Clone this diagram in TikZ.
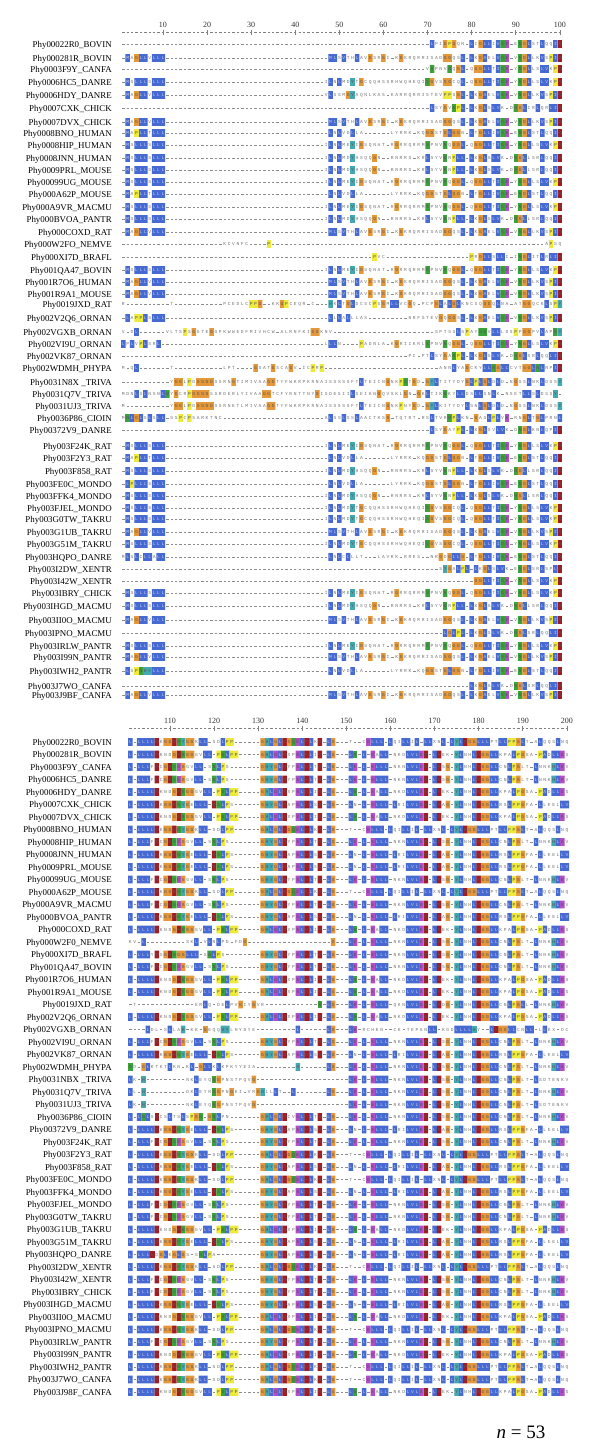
\documentclass[tikz,border=0pt]{standalone}
\usepackage{fontspec}
\setmainfont{Liberation Serif}
\font\resfnt="Liberation Mono" at 4.6pt
\definecolor{cB}{RGB}{70,105,210}
\definecolor{cR}{RGB}{160,28,35}
\definecolor{cM}{RGB}{178,78,198}
\definecolor{cG}{RGB}{58,162,58}
\definecolor{cO}{RGB}{228,152,58}
\definecolor{cY}{RGB}{238,234,60}
\definecolor{cC}{RGB}{68,168,176}
\definecolor{plainL}{RGB}{115,115,115}
\definecolor{blueL}{RGB}{195,205,240}
\definecolor{clrL}{RGB}{85,85,85}
\definecolor{gapC}{RGB}{140,140,140}
\newcount\rc
\newif\ifanyrect
\newbox\seqbox
\def\setres#1#2{\expandafter\def\csname rc@#1\endcsname{#2}}
\setres A{cB}\setres I{cB}\setres L{cB}\setres M{cB}\setres F{cB}\setres W{cB}\setres V{cB}\setres C{cB}
\setres K{cR}\setres R{cR}\setres D{cM}\setres E{cM}
\setres S{cG}\setres T{cG}\setres N{cG}\setres Q{cG}
\setres G{cO}\setres P{cY}\setres H{cC}\setres Y{cC}
\def\whitecls{white}\def\gapcls{gap}\def\bluecls{cB}
\def\xzero{118.89}\def\collimit{100}\def\gapxl{121.1}\def\gapxr{562.1}
\def\getclass#1{%
  \if-#1\def\thisclass{gap}\else
    \expandafter\ifx\csname rc@#1\endcsname\relax\def\thisclass{white}\else
      \edef\thisclass{\csname rc@#1\endcsname}\fi\fi}
% rectangle pass
\def\rectone#1{\ifnum\rc>\collimit\relax\else\getclass#1\ifx\thisclass\curclass
   \edef\xl{\the\dimexpr\xzero pt+4.41pt*\rc-2.25pt\relax}%
   \pgfpathrectangle{\pgfpoint{\xl}{\yb}}{\pgfpoint{4.5pt}{7.8pt}}\anyrecttrue\fi\fi}
\def\rectloop#1{\ifx#1\relax\let\seqnext\relax\else\def\seqnext{\rectone#1\advance\rc by1 \rectloop}\fi\seqnext}
\def\dopass#1{\def\curclass{#1}\anyrectfalse\rc=\seqstart\relax
  \expandafter\rectloop\seqstr\relax
  \ifanyrect\pgfsetfillcolor{#1}\pgfusepath{fill}\fi}
% text pass: mode 1 plain, 2 blue cells, 3 other coloured cells
\def\putlet#1{\hbox to4.41pt{\hss\uppercase{#1}\hss}}
\def\putsp{\hskip4.41pt}
\def\txtone#1{\ifnum\rc>\collimit\relax\else\getclass#1%
  \ifcase\txtmode\or
    \ifx\thisclass\whitecls\putlet{#1}\else\putsp\fi
  \or
    \ifx\thisclass\bluecls\putlet{#1}\else\putsp\fi
  \or
    \ifx\thisclass\whitecls\putsp\else\ifx\thisclass\gapcls\putsp\else\ifx\thisclass\bluecls\putsp\else\putlet{#1}\fi\fi\fi
  \fi\fi}
\def\txtloop#1{\ifx#1\relax\let\seqnext\relax\else\def\seqnext{\txtone#1\advance\rc by1 \txtloop}\fi\seqnext}
\def\txtrow#1#2{\setbox\seqbox\hbox{\resfnt\def\txtmode{#1}\rc=\seqstart\relax\expandafter\txtloop\seqstr\relax}%
  \pgftext[left,base,at={\pgfpoint{\xs}{\ybase}}]{\color{#2}\box\seqbox}}
\def\seqrow#1#2#3{\begin{pgfscope}%
  \edef\yb{\the\dimexpr -#1pt - 3.9pt\relax}%
  \edef\ybase{\the\dimexpr -#1pt - 1.55pt\relax}%
  \edef\xs{\the\dimexpr\xzero pt+4.41pt*#2-2.205pt\relax}%
  \def\seqstart{#2}\edef\seqstr{#3}%
  \dopass{white}\dopass{cB}\dopass{cR}\dopass{cM}\dopass{cG}\dopass{cO}\dopass{cY}\dopass{cC}%
  \txtrow{1}{plainL}\txtrow{2}{blueL}\txtrow{3}{clrL}%
  \end{pgfscope}}
\newcommand\gapbg[1]{\draw[gapln] (\gapxl,#1) -- (\gapxr,#1);}
\newcommand\Trow[4]{\gapbg{#1}\seqrow{#1}{1}{#2}\seqrow{#1}{47}{#3}\seqrow{#1}{79}{#4}}
\newcommand\Brow[3]{\gapbg{#1}\seqrow{#1}{101}{#2}\seqrow{#1}{131}{#3}}
% top block pieces
\def\NA{-MaGLLvLLL}\def\NB{-MsLLLsLLL}\def\NC{-MaPLLtLLL}\def\ND{-LPLLLsLLL}\def\NE{-LsPNHYLLL}
\def\hA{-MLsVthLavGsrGi-kGkrqrrisadGGqsL}
\def\hB{iLnLmeYiGsqnat-rGrrqrrmSpnvNqGGL}
\def\hC{iLnLmdYhsqqGn--rnrrs-krLsyvNnPLL}
\def\hD{-LnLvdLla------lyrrk-kqGGstGLGGn}
\def\hE{iLnLmdYtGcqqhssrhwqheqiSGvsGGcqL}
\def\tA{-LkGAelVSE-vNGLlkVsPIR}
\def\tB{-qGGLLtISE-yNGLlsLVkPR}
\def\tC{-LkGLsLVk-dNGLlsrLqqIR}
\def\tD{-LtGLLiVSE-eNGLstLqqIR}
% bottom block pieces
\def\bhA{L-LLLLRkndGRNGGgvLL-PSLPP-----}
\def\bhB{L-LLLfRcGRSEGgvLL-sNLPs-------}
\def\bhC{L-LLLLRkGGRNYGeLLL-RSLPs------}
\def\bhD{L-LLLLRkGGRNYGGkLL-sdLPP------}
\def\btA{GHLDLRxpELRLiR-LG---LN-L-EaLL-nkdLVLER-LRek-YLnhLRGGLLkpaLPGsa-PAdLLEs}
\def\btB{GHYGLRypELRLtR-LG---LE-L-ELLL-nknLVLER-LRsG-YLnhLRGGLLcnLPGlt-LnnkHLEv}
\def\btC{GHYGLRapELRLsR-LG---Ln-L-ELLL-LriLVLER-LRaG-YLnhLRGGLLrsLPPGfa-LleelLV}
\def\btD{GHLGLRGQELRLkR-LG---t--cELLL-LqiLLiL-LLxnL-LYLRGGLLLptLLPPGLt-aLqqsLnq}
\tikzset{
 lab/.style={font=\fontsize{8.9}{10}\selectfont, anchor=base east, inner sep=0pt},
 rnum/.style={font=\fontsize{8}{9}\selectfont, inner sep=0pt, text=black!80},
 gapln/.style={draw=gapC, line width=0.55pt, dash pattern=on 2.4pt off 2.01pt, dash phase=3.405pt},
 rulerln/.style={draw=gray, line width=0.5pt, dash pattern=on 2.4pt off 2.01pt, dash phase=3.405pt},
 rtick/.style={draw=gray, line width=0.6pt}
}
\begin{document}
\begin{tikzpicture}[x=1pt,y=-1pt]
\useasboundingbox (0,0) rectangle (600,1448);
\fill[white] (0,0) rectangle (600,1448);
% ---------------- top ruler
\draw[rulerln] (121.1,32) -- (562.1,32);
\foreach \c in {10,20,...,100}{
  \node[rnum] (rt\c) at ({118.89+4.41*\c},24.5) {\c};
  \draw[rtick] ({118.89+4.41*\c},29.5) -- ++(0,5);
}
% ---------------- top labels
\foreach \nm/\yy [count=\i] in {Phy00022R0\_BOVIN/44,Phy000281R\_BOVIN/58,Phy0003F9Y\_CANFA/69,Phy0006HC5\_DANRE/82,Phy0006HDY\_DANRE/95,Phy0007CXK\_CHICK/108,Phy0007DVX\_CHICK/122,Phy0008BNO\_HUMAN/133,Phy0008HIP\_HUMAN/145,Phy0008JNN\_HUMAN/158,Phy0009PRL\_MOUSE/170,Phy00099UG\_MOUSE/182,Phy000A62P\_MOUSE/194,Phy000A9VR\_MACMU/207,Phy000BVOA\_PANTR/219,Phy000COXD\_RAT/232,Phy000W2FO\_NEMVE/244,Phy000XI7D\_BRAFL/257,Phy001QA47\_BOVIN/270,Phy001R7O6\_HUMAN/282,Phy001R9A1\_MOUSE/294,Phy0019JXD\_RAT/304,Phy002V2Q6\_ORNAN/318,Phy002VGXB\_ORNAN/332,Phy002VI9U\_ORNAN/344,Phy002VK87\_ORNAN/356,Phy002WDMH\_PHYPA/368,Phy0031N8X \_TRIVA/382,Phy0031Q7V\_TRIVA/394,Phy0031UJ3\_TRIVA/406,Phy0036P86\_CIOIN/418,Phy00372V9\_DANRE/430,Phy003F24K\_RAT/446,Phy003F2Y3\_RAT/458,Phy003F858\_RAT/471,Phy003FE0C\_MONDO/484,Phy003FFK4\_MONDO/496,Phy003FJEL\_MONDO/508,Phy003G0TW\_TAKRU/519,Phy003G1UB\_TAKRU/532,Phy003G51M\_TAKRU/544,Phy003HQPO\_DANRE/557,Phy003I2DW\_XENTR/569,Phy003I42W\_XENTR/581,Phy003IBRY\_CHICK/593,Phy003IHGD\_MACMU/606,Phy003II0O\_MACMU/620,Phy003IPNO\_MACMU/633,Phy003IRLW\_PANTR/646,Phy003I99N\_PANTR/657,Phy003IWH2\_PANTR/671,Phy003J7WO\_CANFA/686,Phy003J9BF\_CANFA/695}
  {\node[lab] (ta\i) at (112,\yy+3.1) {\nm};}
% ---------------- top rows
\gapbg{44}\seqrow{44}{70}{-LpiGPGqn-LiGLLiVSE-eNGLstLqqIR}
\Trow{58}{\NA}{\hA}{\tA}
\gapbg{69}\seqrow{69}{70}{vSpnvNqGL-qGGLLtISE-yNGLlsLVkPR}
\Trow{82}{\NB}{\hE}{\tB}
\Trow{95}{\NA}{vLssmGYaqnlkas-karrqrristevPPsGL}{\tA}
\gapbg{108}\seqrow{108}{71}{LsyGvNPL-LkGLsLVk-dNGLirLqrLIR}
\Trow{122}{\NA}{\hA}{\tA}
\Trow{133}{\NC}{\hD}{\tD}
\Trow{145}{\NB}{\hB}{\tB}
\Trow{158}{\NB}{\hC}{\tC}
\Trow{170}{\NB}{\hC}{\tC}
\Trow{182}{\NB}{\hB}{\tB}
\Trow{194}{\NC}{\hD}{\tD}
\Trow{207}{\NB}{\hB}{\tB}
\Trow{219}{\NB}{\hC}{\tC}
\Trow{232}{\NA}{\hA}{\tA}
\gapbg{244}\seqrow{244}{24}{kcvnfc}\seqrow{244}{34}{P}\seqrow{244}{97}{aPsq}
\gapbg{257}\seqrow{257}{58}{Pvc}\seqrow{257}{80}{PrGLLsLLi-iNGLitLrLIR}
\Trow{270}{\NB}{\hB}{\tB}
\Trow{282}{\NA}{\hA}{\tA}
\Trow{294}{\NA}{\hA}{\tA}
\gapbg{304}\seqrow{304}{1}{r}\seqrow{304}{12}{t}\seqrow{304}{24}{pcedlcPPG--kkGPceqr-c}\seqrow{304}{48}{HkLtGLdcscPsGmLLvcGq-pcpGLaLGLkncsqGGqLna-atGGqckLsPY}
\Trow{318}{-LaPPLsLLL}{-LlLaLllas---------nrfstevGqGGsL}{\tA}
\gapbg{332}\seqrow{332}{1}{v-dL}\seqrow{332}{11}{vltsPsGgteGgpkwwedfmivhcw-alrnfkiGGknv}\seqrow{332}{72}{sptssLsPayNNvLLldsPpGGpvLapNY}
\gapbg{344}\seqrow{344}{1}{LpLvPLsrL}\seqrow{344}{47}{lLLn----Padnla-kGriikrlSpnvNqGGL}\seqrow{344}{79}{\tB}
\gapbg{356}\seqrow{356}{66}{pc-ptLsyGaNPL-LkGLsLVk-dNGLsrLqqLIR}
\gapbg{368}\seqrow{368}{1}{m-qL}\seqrow{368}{12}{t}\seqrow{368}{24}{lpt}\seqrow{368}{31}{GsatGscaGv-icPrP}\seqrow{368}{73}{annLyaGckyLLNGLLcvtGGLNLnpIR}
\gapbg{382}\seqrow{382}{12}{yGGlPdGGGGssrnGtimivaaGGtyfwkrpkrnaisssssftLteiinGnkPStGd-GYLtitydyGLPLGLdLd-nGssLnkLdssY}
\gapbg{394}\seqrow{394}{1}{mdnLsLnsnLNyGcrPGGGGssrderlyivaaGGtcfyrnttnyGisdesiiLseiknGqvsklGn-GkLtikNkyLLdsLLsnLk-nsetLLsLdssY}
\gapbg{406}\seqrow{406}{1}{m}\seqrow{406}{12}{yGGlPdGGGGssrnetlmivaaGGtyfwkrpkrnaisssssftLteiinGnkPnyGd-GYLkitydyLsnLGLdLd-nGssLnkLdssY}
\gapbg{418}\seqrow{418}{1}{mNLGLsLsLL-ssPcPsarktnc}\seqrow{418}{47}{aLssLssLaactksG-tqtrt-rsLtvrNPLkn-GasLPLvE-rnGLtGLprnL}
\gapbg{430}\seqrow{430}{71}{LsyGayPL-LkGLsvLVk-dNGLknLqpIR}
\Trow{446}{\NB}{\hB}{\tB}
\Trow{458}{\NC}{\hD}{\tD}
\Trow{471}{\NB}{\hC}{\tC}
\Trow{484}{\ND}{\hD}{\tD}
\Trow{496}{\NB}{\hC}{\tC}
\Trow{508}{\NB}{\hE}{\tB}
\Trow{519}{\NB}{\hE}{\tB}
\Trow{532}{\NA}{\hA}{\tA}
\Trow{544}{\NB}{\hE}{\tB}
\Trow{557}{mLsLcLLaLL}{-LnLcLllt---lavrk-rres--nrGdGLLG}{\tD}
\gapbg{569}\seqrow{569}{73}{sYGaLPL-LkGLsLVk-eNGLsrLspLR}
\gapbg{581}\seqrow{581}{81}{GGLLtISE-yNGLlsLVkPR}
\Trow{593}{\NB}{\hB}{\tB}
\Trow{606}{\NB}{\hC}{\tC}
\Trow{620}{\NA}{\hA}{\tA}
\gapbg{633}\seqrow{633}{74}{LGLPL-LkGLsLVk-dNGLsrLqqLIR}
\Trow{646}{\NB}{\hB}{\tB}
\Trow{657}{\NA}{\hA}{\tA}
\Trow{671}{\NE}{\hD}{\tD}
\gapbg{686}\seqrow{686}{80}{LkGLsLVk-dNGLsrLqqLIR}
\Trow{695}{\NA}{\hA}{\tA}
% ---------------- bottom block
\def\xzero{-315.11}\def\collimit{200}\def\gapxl{128.1}\def\gapxr{569.1}
\draw[rulerln] (128.1,728) -- (569.1,728);
\foreach \c in {110,120,...,200}{
  \node[rnum] (rb\c) at ({-315.11+4.41*\c},720.5) {\c};
  \draw[rtick] ({-315.11+4.41*\c},725.5) -- ++(0,5);
}
\foreach \nm/\yy [count=\i] in {Phy00022R0\_BOVIN/742,Phy000281R\_BOVIN/754.5,Phy0003F9Y\_CANFA/767,Phy0006HC5\_DANRE/779.5,Phy0006HDY\_DANRE/792,Phy0007CXK\_CHICK/804.5,Phy0007DVX\_CHICK/817,Phy0008BNO\_HUMAN/829.5,Phy0008HIP\_HUMAN/842,Phy0008JNN\_HUMAN/854.5,Phy0009PRL\_MOUSE/867,Phy00099UG\_MOUSE/879.5,Phy000A62P\_MOUSE/892,Phy000A9VR\_MACMU/904.5,Phy000BVOA\_PANTR/917,Phy000COXD\_RAT/929.5,Phy000W2F0\_NEMVE/942,Phy000XI7D\_BRAFL/954.5,Phy001QA47\_BOVIN/967,Phy001R7O6\_HUMAN/979.5,Phy001R9A1\_MOUSE/992,Phy0019JXD\_RAT/1004.5,Phy002V2Q6\_ORNAN/1017,Phy002VGXB\_ORNAN/1029.5,Phy002VI9U\_ORNAN/1042,Phy002VK87\_ORNAN/1054.5,Phy002WDMH\_PHYPA/1067,Phy0031NBX \_TRIVA/1079.5,Phy0031Q7V\_TRIVA/1092,Phy0031UJ3\_TRIVA/1104.5,Phy0036P86\_CIOIN/1117,Phy00372V9\_DANRE/1129.5,Phy003F24K\_RAT/1142,Phy003F2Y3\_RAT/1154.5,Phy003F858\_RAT/1167,Phy003FE0C\_MONDO/1179.5,Phy003FFK4\_MONDO/1192,Phy003FJEL\_MONDO/1204.5,Phy003G0TW\_TAKRU/1217,Phy003G1UB\_TAKRU/1229.5,Phy003G51M\_TAKRU/1242,Phy003HQPO\_DANRE/1254.5,Phy003I2DW\_XENTR/1267,Phy003I42W\_XENTR/1279.5,Phy003IBRY\_CHICK/1292,Phy003IHGD\_MACMU/1304.5,Phy003II0O\_MACMU/1317,Phy003IPNO\_MACMU/1329.5,Phy003IRLW\_PANTR/1342,Phy003I99N\_PANTR/1354.5,Phy003IWH2\_PANTR/1367,Phy003J7WO\_CANFA/1379.5,Phy003J98F\_CANFA/1392}
  {\node[lab] (tb\i) at (112,\yy+3.1) {\nm};}
\Brow{742}{\bhD}{\btD}
\Brow{754.5}{\bhA}{\btA}
\Brow{767}{\bhB}{\btB}
\Brow{779.5}{\bhB}{\btB}
\Brow{792}{\bhA}{\btA}
\Brow{804.5}{\bhC}{\btC}
\Brow{817}{\bhA}{\btA}
\Brow{829.5}{\bhD}{\btD}
\Brow{842}{\bhB}{\btB}
\Brow{854.5}{\bhC}{\btC}
\Brow{867}{\bhC}{\btC}
\Brow{879.5}{\bhB}{\btB}
\Brow{892}{\bhD}{\btD}
\Brow{904.5}{\bhB}{\btB}
\Brow{917}{\bhC}{\btC}
\Brow{929.5}{\bhA}{\btA}
\gapbg{942}\seqrow{942}{101}{kv-L---------skL-vLnLpd-fdG}\seqrow{942}{147}{G---LE-L-ELLL-nknLVLER-LRsG-YLnhLRGGLLcnLPGlt-LnnkHLEv}
\Brow{954.5}{L-LLLyRsGRNGGLLL-sNLPs--------}{\btB}
\Brow{967}{\bhB}{\btB}
\Brow{979.5}{\bhA}{\btA}
\Brow{992}{\bhA}{\btA}
\gapbg{1004.5}\seqrow{1004.5}{101}{-t-------------erLq-deLpvGiyGvr}\seqrow{1004.5}{144}{N-LG---LE-L-ELLL-qknLVLER-LRdG-YLnhLRGGLLcnLPGLl-LnnkHLEv}
\Brow{1017}{\bhA}{\btA}
\gapbg{1029.5}\seqrow{1029.5}{101}{----Ldl-sLlaH-kk-GeqqHYlhydye}\seqrow{1029.5}{139}{L------LG---LE-rchen--ck-tepgnLL-kgdLLLLHy--LRGGLLcnLL-lLkx-dcLL}
\Brow{1042}{\bhB}{\btB}
\Brow{1054.5}{\bhC}{\btC}
\gapbg{1067}\seqrow{1067}{101}{Nd-GLktktLkn-kL-GLLkLkpkyyeia}\seqrow{1067}{139}{H------LG---LE-L-ELLL-nknLVLER-LRsG-YLnhLRGGLLcnLPGlt-LnnkHLEv}
\gapbg{1079.5}\seqrow{1079.5}{101}{Lk-H---------nkLeyqNGpnstpqvG}\seqrow{1079.5}{150}{-LE-L-ELLL-nknLVLER-LRsG-YLnhLRGGLLcnLPGlt-Lsdtenkv}
\gapbg{1092}\seqrow{1092}{101}{Ll-H---------dkLeyrNGpnGki-vrGHllLt--L}\seqrow{1092}{146}{LG---LE-L-ELLL-nknLVLER-LRsG-YLnhLRGGLLcnLPGlt-LnnkHLEv}
\gapbg{1104.5}\seqrow{1104.5}{101}{Lk-H---------nkLeyqNGpnstpqvG}\seqrow{1104.5}{150}{-LE-L-ELLL-nknLVLER-LRsG-YLnhLRGGLLcnLPGlt-Lsdtenkv}
\Brow{1117}{L-LNLsRcsLtsLsPGN-GNLpn-------}{GHLGCRcvELRLtR-LG---LE-L-ELLL-nknLVLER-LRsG-YLnhLRGGLLcnLPGlt-LnnkHLEv}
\Brow{1129.5}{\bhC}{\btC}
\Brow{1142}{\bhB}{\btB}
\Brow{1154.5}{\bhD}{\btD}
\Brow{1167}{\bhC}{\btC}
\Brow{1179.5}{\bhD}{\btD}
\Brow{1192}{\bhC}{\btC}
\Brow{1204.5}{\bhB}{\btB}
\Brow{1217}{\bhB}{\btB}
\Brow{1229.5}{\bhA}{\btA}
\Brow{1242}{\bhC}{\btC}
\Brow{1254.5}{L-LLLRdGLkGLGs-sNLPa-------}{\btC}
\Brow{1267}{\bhD}{\btD}
\Brow{1279.5}{\bhB}{\btB}
\Brow{1292}{\bhB}{\btB}
\Brow{1304.5}{\bhC}{\btC}
\Brow{1317}{\bhA}{\btA}
\Brow{1329.5}{\bhD}{\btD}
\Brow{1342}{\bhB}{\btB}
\Brow{1354.5}{\bhA}{\btA}
\Brow{1367}{\bhD}{\btD}
\Brow{1379.5}{\bhD}{\btD}
\Brow{1392}{\bhA}{\btA}
\node (nn) at (521,1432) {\fontsize{19}{22}\selectfont\textit{n} = 53};
\end{tikzpicture}
\end{document}
